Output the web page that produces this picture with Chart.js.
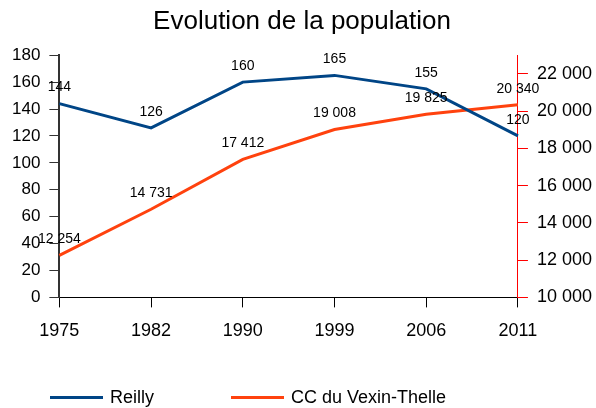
<!DOCTYPE html>
<html lang="fr">
  <head>
    <meta charset="UTF-8" />
    <title>Evolution de la population</title>
    <script src="https://cdn.jsdelivr.net/npm/chart.js"></script>
    <style>
      html, body { margin: 0; padding: 0; background: #fff; }
      #wrap { position: relative; width: 596px; height: 408px; }
      #legend {
        position: absolute; left: 50px; top: 387px;
        display: flex; align-items: center;
        font: 18px 'Liberation Sans', Arial, sans-serif; color: #000;
      }
      #legend .item { display: flex; align-items: center; margin-right: 77px; }
      #legend .swatch { width: 53px; height: 3px; margin-right: 7px; }
    </style>
  </head>
  <body>
    <div id="wrap">
      <canvas id="popChart"></canvas>
      <div id="legend"></div>
    </div>

    <script>
      const years = ["1975", "1982", "1990", "1999", "2006", "2011"];
      const reilly = [144, 126, 160, 165, 155, 120];
      const vexinThelle = [12254, 14731, 17412, 19008, 19825, 20340];
      const rightTicks = [10000, 12000, 14000, 16000, 18000, 20000, 22000];

      const fmt = (v) => String(v).replace(/\B(?=(\d{3})+(?!\d))/g, " ");

      // value written above each point
      const valueLabels = {
        id: "valueLabels",
        afterDatasetsDraw(chart) {
          const ctx = chart.ctx;
          ctx.save();
          ctx.font = "14px 'Liberation Sans', Arial, sans-serif";
          ctx.fillStyle = "#000";
          ctx.textAlign = "center";
          ctx.textBaseline = "middle";
          chart.data.datasets.forEach((ds, i) => {
            chart.getDatasetMeta(i).data.forEach((pt, j) => {
              ctx.fillText(fmt(ds.data[j]), pt.x, pt.y - 16);
            });
          });
          ctx.restore();
        },
      };

      const datasets = [
        {
          label: "Reilly",
          data: reilly,
          yAxisID: "y",
          borderColor: "#004586",
          backgroundColor: "#004586",
          borderWidth: 3,
          pointRadius: 0,
          tension: 0,
        },
        {
          label: "CC du Vexin-Thelle",
          data: vexinThelle,
          yAxisID: "y2",
          borderColor: "#ff420e",
          backgroundColor: "#ff420e",
          borderWidth: 3,
          pointRadius: 0,
          tension: 0,
        },
      ];

      document.getElementById("legend").innerHTML = datasets
        .map(
          (d) =>
            `<div class="item"><div class="swatch" style="background:${d.borderColor}"></div>${d.label}</div>`
        )
        .join("");

      const font = (size) => ({ size, family: "'Liberation Sans', Arial, sans-serif" });

      const ctx = document.getElementById("popChart").getContext("2d");
      new Chart(ctx, {
        type: "line",
        data: { labels: years, datasets },
        options: {
          responsive: true,
          maintainAspectRatio: false,
          animation: false,
          layout: { padding: { left: 3, right: -5, top: 2, bottom: 53 } },
          plugins: {
            title: {
              display: true,
              text: "Evolution de la population",
              color: "#000",
              font: { size: 26, weight: "normal", family: "'Liberation Sans', Arial, sans-serif" },
              padding: { top: 4, bottom: 18 },
            },
            legend: { display: false },
            tooltip: { enabled: false },
          },
          scales: {
            x: {
              offset: false,
              grid: { drawOnChartArea: false, tickLength: 10, color: "#000" },
              border: { color: "#000", width: 1 },
              ticks: { color: "#000", padding: 13, font: font(18) },
            },
            y: {
              position: "left",
              min: 0,
              max: 180,
              grid: { drawOnChartArea: false, tickLength: 10, color: "#333" },
              border: { color: "#333", width: 2 },
              ticks: { stepSize: 20, color: "#000", padding: 9, font: font(17) },
            },
            y2: {
              position: "right",
              min: 10000,
              max: 23000,
              afterBuildTicks: (axis) => {
                axis.ticks = rightTicks.map((v) => ({ value: v }));
              },
              grid: { drawOnChartArea: false, tickLength: 10, color: "#ff0000" },
              border: { color: "#ff0000", width: 1 },
              ticks: { color: "#000", padding: 9, font: font(18), callback: (v) => fmt(v) },
            },
          },
        },
        plugins: [valueLabels],
      });
    </script>
  </body>
</html>
